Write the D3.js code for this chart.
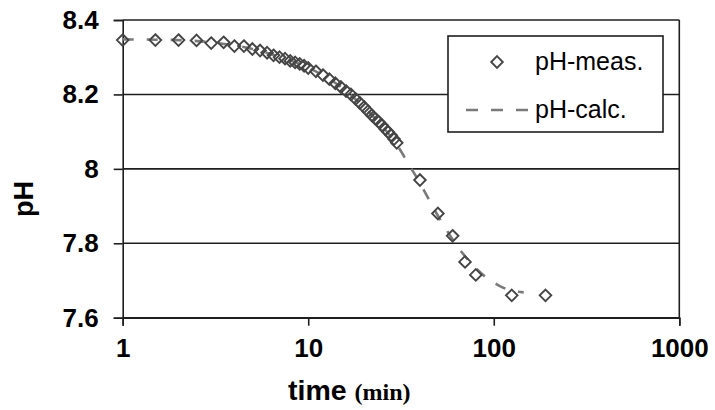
<!DOCTYPE html>
<html>
<head>
<meta charset="utf-8">
<script src="https://cdn.jsdelivr.net/npm/d3@7"></script>
<style>
  body { margin: 0; background: #fff; }
  svg { display: block; }
</style>
</head>
<body>
<svg id="chart" width="715" height="410"></svg>
<script>
// Measured pH over time (min)
const measTime = [1, 1.5, 2, 2.5, 3, 3.5, 4, 4.5, 5, 5.5, 6, 6.5, 7, 7.5, 8, 8.5, 9, 9.5, 10,
  11, 12, 13, 14, 15, 16, 17, 18, 19, 20, 21, 22, 23, 24, 25, 26, 27, 28, 29, 30,
  40, 50, 60, 70, 80, 125, 190];
const measPH = [8.346, 8.346, 8.346, 8.345, 8.338, 8.340, 8.330, 8.330, 8.322, 8.318, 8.312, 8.305, 8.300, 8.296, 8.290, 8.286, 8.282, 8.277, 8.271,
  8.262, 8.252, 8.241, 8.230, 8.220, 8.209, 8.200, 8.188, 8.177, 8.166, 8.155, 8.144, 8.135, 8.126, 8.117, 8.107, 8.099, 8.090, 8.080, 8.070,
  7.970, 7.880, 7.820, 7.750, 7.715, 7.660, 7.660];

// Calculated pH curve
const calcTime = [1, 2, 3, 5, 7, 10, 15, 20, 25, 30, 35, 40, 45, 50, 55, 60, 70, 80, 90, 100, 110, 120, 145];
const calcPH = [8.348, 8.346, 8.340, 8.322, 8.301, 8.272, 8.220, 8.165, 8.115, 8.065, 8.010, 7.962, 7.915, 7.874, 7.840, 7.810, 7.765, 7.733, 7.710, 7.695, 7.683, 7.675, 7.668];

// Axis ticks and labels
const xTicks = [1, 10, 100, 1000];
const yTicks = [7.6, 7.8, 8.0, 8.2, 8.4];
const yTickLabels = ["7.6", "7.8", "8", "8.2", "8.4"];
const legendLabels = ["pH-meas.", "pH-calc."];

const svg = d3.select("#chart");
const plot = { left: 122.7, right: 679.3, top: 20, bottom: 317.7 };

const x = d3.scaleLog().domain([1, 1000]).range([plot.left, plot.right]);
const y = d3.scaleLinear().domain([7.6, 8.4]).range([plot.bottom, plot.top]);

const sans = "'Liberation Sans', Arial, sans-serif";
const serif = "'Liberation Serif', 'Times New Roman', serif";
const lineColor = "#1e1e1e";

// Horizontal gridlines
svg.append("g")
  .selectAll("line")
  .data(yTicks)
  .join("line")
  .attr("x1", plot.left).attr("x2", plot.right)
  .attr("y1", d => y(d)).attr("y2", d => y(d))
  .attr("stroke", lineColor).attr("stroke-width", 1.6);

// Right border of the plot area
svg.append("line")
  .attr("x1", plot.right).attr("x2", plot.right)
  .attr("y1", plot.top).attr("y2", plot.bottom)
  .attr("stroke", lineColor).attr("stroke-width", 1.6);

// Y axis
const yAxis = svg.append("g")
  .attr("transform", `translate(${plot.left},0)`)
  .call(d3.axisLeft(y).tickValues(yTicks).tickSize(9).tickPadding(15)
    .tickFormat((d, i) => yTickLabels[i]));
yAxis.select(".domain").attr("stroke", lineColor).attr("stroke-width", 1.6);
yAxis.selectAll(".tick line").attr("stroke", lineColor).attr("stroke-width", 1.6);
yAxis.selectAll(".tick text")
  .attr("font-family", sans).attr("font-size", 26).attr("font-weight", "bold").attr("fill", "#000");

// X axis
const xAxis = svg.append("g")
  .attr("transform", `translate(0,${plot.bottom})`)
  .call(d3.axisBottom(x).tickValues(xTicks).tickSize(8).tickPadding(13)
    .tickFormat(d3.format("d")));
xAxis.select(".domain").attr("stroke", lineColor).attr("stroke-width", 1.6);
xAxis.selectAll(".tick line").attr("stroke", lineColor).attr("stroke-width", 1.6);
xAxis.selectAll(".tick text")
  .attr("font-family", sans).attr("font-size", 26).attr("font-weight", "bold").attr("fill", "#000");

// Axis titles
svg.append("text")
  .attr("transform", "translate(33,199) rotate(-90)")
  .attr("text-anchor", "middle")
  .attr("font-family", sans).attr("font-size", 27).attr("font-weight", "bold")
  .text("pH");

const xTitle = svg.append("text")
  .attr("x", 288).attr("y", 400)
  .attr("font-weight", "bold");
xTitle.append("tspan").attr("font-family", sans).attr("font-size", 28.5).text("time ");
xTitle.append("tspan").attr("font-family", serif).attr("font-size", 24).text("(min)");

// Calculated curve (dashed)
const calcData = calcTime.map((t, i) => [t, calcPH[i]]);
svg.append("path")
  .datum(calcData)
  .attr("fill", "none")
  .attr("stroke", "#7a7a7a")
  .attr("stroke-width", 2.6)
  .attr("stroke-dasharray", "11,13")
  .attr("d", d3.line().x(d => x(d[0])).y(d => y(d[1])).curve(d3.curveMonotoneX));

// Measured points (hollow diamonds)
const diamond = d3.symbol().type(d3.symbolDiamond2).size(86);
const measData = measTime.map((t, i) => [t, measPH[i]]);
svg.append("g")
  .selectAll("path")
  .data(measData)
  .join("path")
  .attr("transform", d => `translate(${x(d[0])},${y(d[1])})`)
  .attr("d", diamond)
  .attr("fill", "none")
  .attr("stroke", "#454545")
  .attr("stroke-width", 1.9);

// Legend
const legend = svg.append("g");
legend.append("rect")
  .attr("x", 448).attr("y", 36).attr("width", 215).attr("height", 96)
  .attr("fill", "#fff").attr("stroke", lineColor).attr("stroke-width", 1.6);
legend.append("path")
  .attr("transform", "translate(497,62)")
  .attr("d", diamond)
  .attr("fill", "none").attr("stroke", "#454545").attr("stroke-width", 1.9);
legend.append("line")
  .attr("x1", 466).attr("x2", 530).attr("y1", 110).attr("y2", 110)
  .attr("stroke", "#7a7a7a").attr("stroke-width", 2.6).attr("stroke-dasharray", "12,13");
legend.selectAll("text.lbl")
  .data(legendLabels)
  .join("text")
  .attr("class", "lbl")
  .attr("x", 535)
  .attr("y", (d, i) => 70 + i * 48)
  .attr("font-family", sans).attr("font-size", 25)
  .text(d => d);
</script>
</body>
</html>
